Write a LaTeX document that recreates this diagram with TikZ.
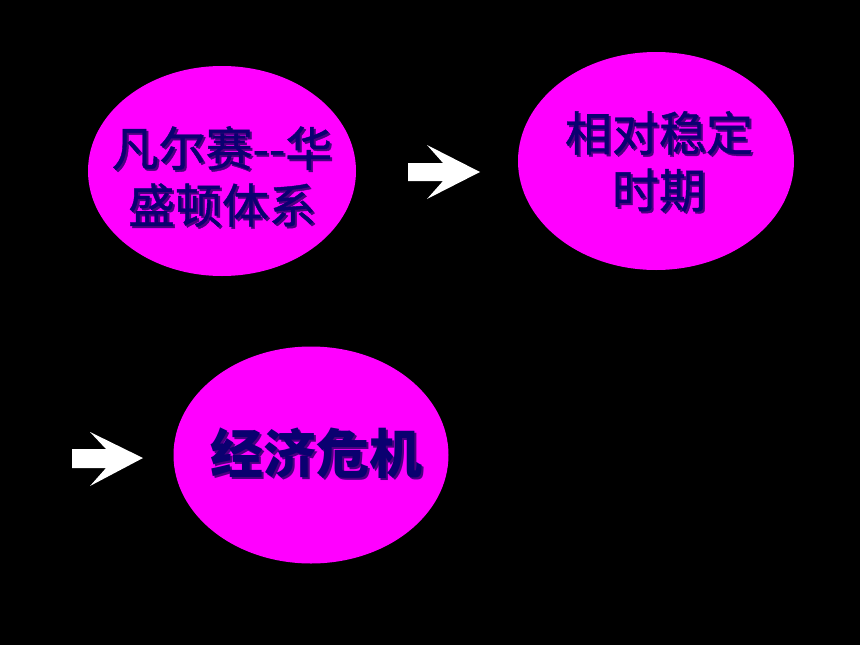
\documentclass[tikz,border=0pt]{standalone}
\usepackage{fontspec}
\newfontfamily\cjk[FakeBold=0.9]{Noto Sans CJK SC}
\newfontfamily\cjkb{Noto Sans CJK SC}
\usetikzlibrary{shapes.geometric,calc}
\definecolor{magentaE}{HTML}{FF00FF}
\definecolor{navyT}{HTML}{0A0070}
\definecolor{shadowT}{HTML}{4A0080}
\tikzset{
  bubble/.style={ellipse, fill=magentaE, draw=none, inner sep=0pt},
  lbl/.style={text=navyT, align=center, inner sep=0pt},
  lblshadow/.style={text=shadowT, align=center, inner sep=0pt},
  arrowshape/.style={fill=white, draw=none},
  txtA/.style={font=\cjk\fontsize{47}{57}\selectfont},
  txtB/.style={font=\cjkb\bfseries\fontsize{53}{60}\selectfont},
}
\begin{document}
\begin{tikzpicture}[x=1pt,y=-1pt]
\fill[black] (0,0) rectangle (860,645);
\useasboundingbox (0,0) rectangle (860,645);

\node[bubble, minimum width=268pt, minimum height=210pt] (e1) at (222,171) {};
\node[bubble, minimum width=276pt, minimum height=218pt] (e2) at (656,161) {};
\node[bubble, minimum width=275pt, minimum height=217pt] (e3) at (311,455) {};

\node[lblshadow, txtA] (s1) at ($(222,176.5)+(2,2)$) {凡尔赛-{}-华\\盛顿体系};
\node[lbl, txtA] (t1) at (222,176.5) {凡尔赛-{}-华\\盛顿体系};

\node[lblshadow, txtA] (s2) at ($(659,161.5)+(2,2)$) {相对稳定\\时期};
\node[lbl, txtA] (t2) at (659,161.5) {相对稳定\\时期};

\node[lblshadow, txtB] (s3) at ($(316,453)+(2,2)$) {经济危机};
\node[lbl, txtB] (t3) at (316,453) {经济危机};

% arrow 1
\fill[arrowshape] (408,163) -- (443,163) -- (427,145) -- (480,172) -- (427,199) -- (443,181) -- (408,181) -- cycle;
% arrow 2
\fill[arrowshape] (72,449) -- (106,449) -- (90,432) -- (143,458) -- (90,486) -- (106,468) -- (72,468) -- cycle;
\end{tikzpicture}
\end{document}
